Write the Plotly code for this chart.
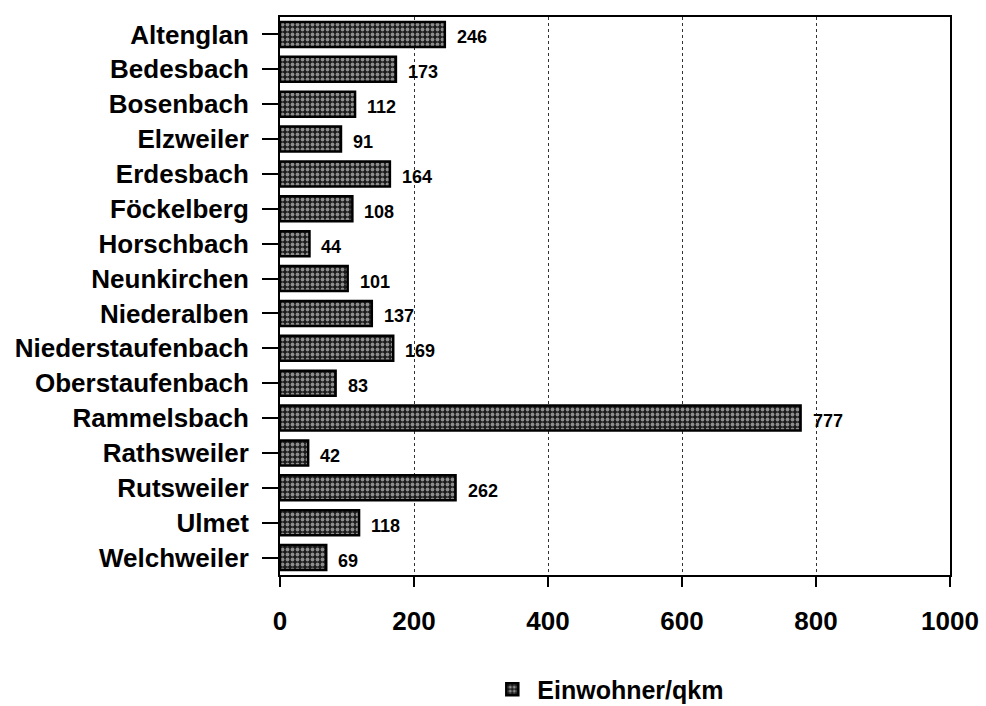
import plotly.graph_objects as go

gemeinden = ["Altenglan", "Bedesbach", "Bosenbach", "Elzweiler", "Erdesbach",
             "Föckelberg", "Horschbach", "Neunkirchen", "Niederalben",
             "Niederstaufenbach", "Oberstaufenbach", "Rammelsbach",
             "Rathsweiler", "Rutsweiler", "Ulmet", "Welchweiler"]
dichte = [246, 173, 112, 91, 164, 108, 44, 101, 137, 169, 83, 777, 42, 262, 118, 69]
x_ticks = [0, 200, 400, 600, 800, 1000]
serie = "Einwohner/qkm"

font_fam = "Liberation Sans, Arial, sans-serif"

fig = go.Figure()
fig.add_trace(go.Bar(
    y=gemeinden, x=dichte, orientation="h", name=serie,
    marker=dict(
        color="#222222",
        line=dict(color="black", width=2.5),
        pattern=dict(shape=".", fgcolor="white", bgcolor="#1a1a1a",
                     size=5, solidity=0.45),
    ),
    cliponaxis=False,
))

# value labels to the right of each bar
for name, v in zip(gemeinden, dichte):
    fig.add_annotation(
        x=v, y=name, text=str(v), showarrow=False,
        xanchor="left", xshift=10, yshift=-3,
        font=dict(family=font_fam, size=18, color="black", weight="bold"),
    )

fig.update_layout(
    width=986, height=706,
    margin=dict(l=280, r=36, t=17, b=131, autoexpand=False),
    paper_bgcolor="white", plot_bgcolor="white",
    bargap=0.28,
    showlegend=True,
    legend=dict(orientation="h", x=0.49, xanchor="center",
                y=-0.205, yanchor="middle",
                font=dict(family=font_fam, size=25, color="black", weight="bold"),
                itemwidth=40),
    font=dict(family=font_fam, color="black"),
)
fig.update_xaxes(
    range=[0, 1000], tickvals=x_ticks, ticktext=[str(t) for t in x_ticks],
    showgrid=True, gridcolor="#333333", griddash="dot", gridwidth=1,
    showline=True, linecolor="black", linewidth=2, mirror=True,
    ticks="outside", ticklen=10, tickcolor="black", tickwidth=1.5,
    ticklabelstandoff=12, automargin=False,
    tickfont=dict(family=font_fam, size=26, color="black", weight="bold"),
    zeroline=False,
)
fig.update_yaxes(
    autorange="reversed", categoryorder="array", categoryarray=gemeinden,
    showline=True, linecolor="black", linewidth=2, mirror=True,
    ticks="outside", ticklen=16, tickcolor="black", tickwidth=1.5,
    ticklabelstandoff=8, automargin=False,
    tickfont=dict(family=font_fam, size=26, color="black", weight="bold"),
    showgrid=False,
)

fig.write_html("out.html")
